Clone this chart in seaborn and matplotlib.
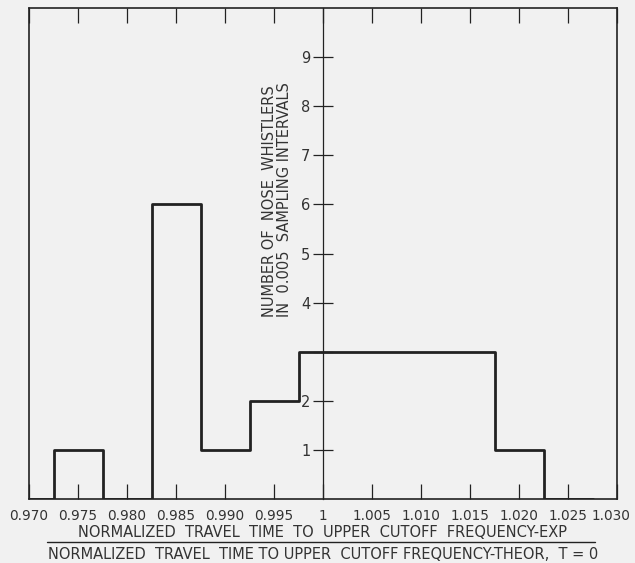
import matplotlib
matplotlib.use('Agg')
import matplotlib.pyplot as plt
import matplotlib.transforms as mtransforms
import seaborn as sns
import numpy as np
import pandas as pd

# bin centres (0.005 sampling intervals) and counts
bin_centers = [0.975, 0.980, 0.985, 0.990, 0.995, 1.000, 1.005, 1.010, 1.015, 1.020]
counts = [1, 0, 6, 1, 2, 3, 3, 3, 3, 1]
# an empty bin on each side so the outline drops to zero at both ends
bin_edges = [0.9675, 0.9725, 0.9775, 0.9825, 0.9875, 0.9925, 0.9975,
             1.0025, 1.0075, 1.0125, 1.0175, 1.0225, 1.0275]

x_ticks = [0.970, 0.975, 0.980, 0.985, 0.990, 0.995, 1.000,
           1.005, 1.010, 1.015, 1.020, 1.025, 1.030]
x_ticklabels = ["0.970", "0.975", "0.980", "0.985", "0.990", "0.995", "1",
                "1.005", "1.010", "1.015", "1.020", "1.025", "1.030"]
y_ticks = [1, 2, 3, 4, 5, 6, 7, 8, 9]
y_ticklabels = ["1", "2", "", "4", "5", "6", "7", "8", "9"]

sns.set_style('white')
plt.rcParams['font.family'] = ['DejaVu Sans']

bg = '#f1f1f1'
ink = '#222222'
text_col = '#333333'

fig = plt.figure(figsize=(6.35, 5.63), dpi=100, facecolor=bg)
ax = fig.add_axes([29 / 635, 1 - 499 / 563, 588 / 635, 491 / 563])
ax.set_facecolor(bg)

df = pd.DataFrame({'x': bin_centers, 'n': counts})
sns.histplot(data=df, x='x', weights='n', bins=bin_edges, element='step',
             fill=False, color=ink, linewidth=2.0, ax=ax)

ax.set_xlim(0.970, 1.030)
ax.set_ylim(0, 10)

# frame
for side in ['top', 'right', 'bottom']:
    ax.spines[side].set_visible(True)
    ax.spines[side].set_color(ink)
    ax.spines[side].set_linewidth(1.2)
ax.plot([0, 0], [0, 1], transform=ax.transAxes, color=ink, lw=1.2,
        clip_on=False)

# y axis drawn through x = 1
ax.spines['left'].set_visible(True)
ax.spines['left'].set_position(('data', 1.0))
ax.spines['left'].set_color(ink)
ax.spines['left'].set_linewidth(0.9)
ax.set_yticks(y_ticks)
ax.set_yticklabels(y_ticklabels)
ax.tick_params(axis='y', direction='inout', length=14, width=0.9,
               color=ink, labelcolor=text_col, labelsize=10.5, pad=2, left=True)

ax.set_xticks(x_ticks)
ax.set_xticklabels(x_ticklabels)
ax.tick_params(axis='x', direction='in', length=11, width=0.9, color=ink,
               labelcolor=text_col, labelsize=9.8, pad=7, top=True, bottom=True)
# nudge the last label inwards so it stays on the page
last = ax.get_xticklabels()[-1]
last.set_transform(last.get_transform() +
                   mtransforms.ScaledTranslation(-6 / 100, 0, fig.dpi_scale_trans))

ax.set_xlabel('')
ax.set_ylabel('')

ax.text(0.9953, 3.7, "NUMBER OF  NOSE  WHISTLERS\nIN  0.005  SAMPLING INTERVALS",
        rotation=90, ha='center', va='bottom', multialignment='left',
        fontsize=10.5, color=text_col, linespacing=1.0)

# fraction-style x label
ax.text(0.5, -0.069, "NORMALIZED  TRAVEL  TIME  TO  UPPER  CUTOFF  FREQUENCY-EXP",
        transform=ax.transAxes, ha='center', va='center', fontsize=10.5,
        color=text_col)
ax.plot([0.0306, 0.9626], [-0.0876, -0.0876], transform=ax.transAxes,
        color=ink, lw=1.0, clip_on=False)
ax.text(0.5, -0.114, "NORMALIZED  TRAVEL  TIME TO UPPER  CUTOFF FREQUENCY-THEOR,  T = 0",
        transform=ax.transAxes, ha='center', va='center', fontsize=10.5,
        color=text_col)

plt.savefig('out.png', dpi=100, facecolor=bg)
plt.close(fig)
